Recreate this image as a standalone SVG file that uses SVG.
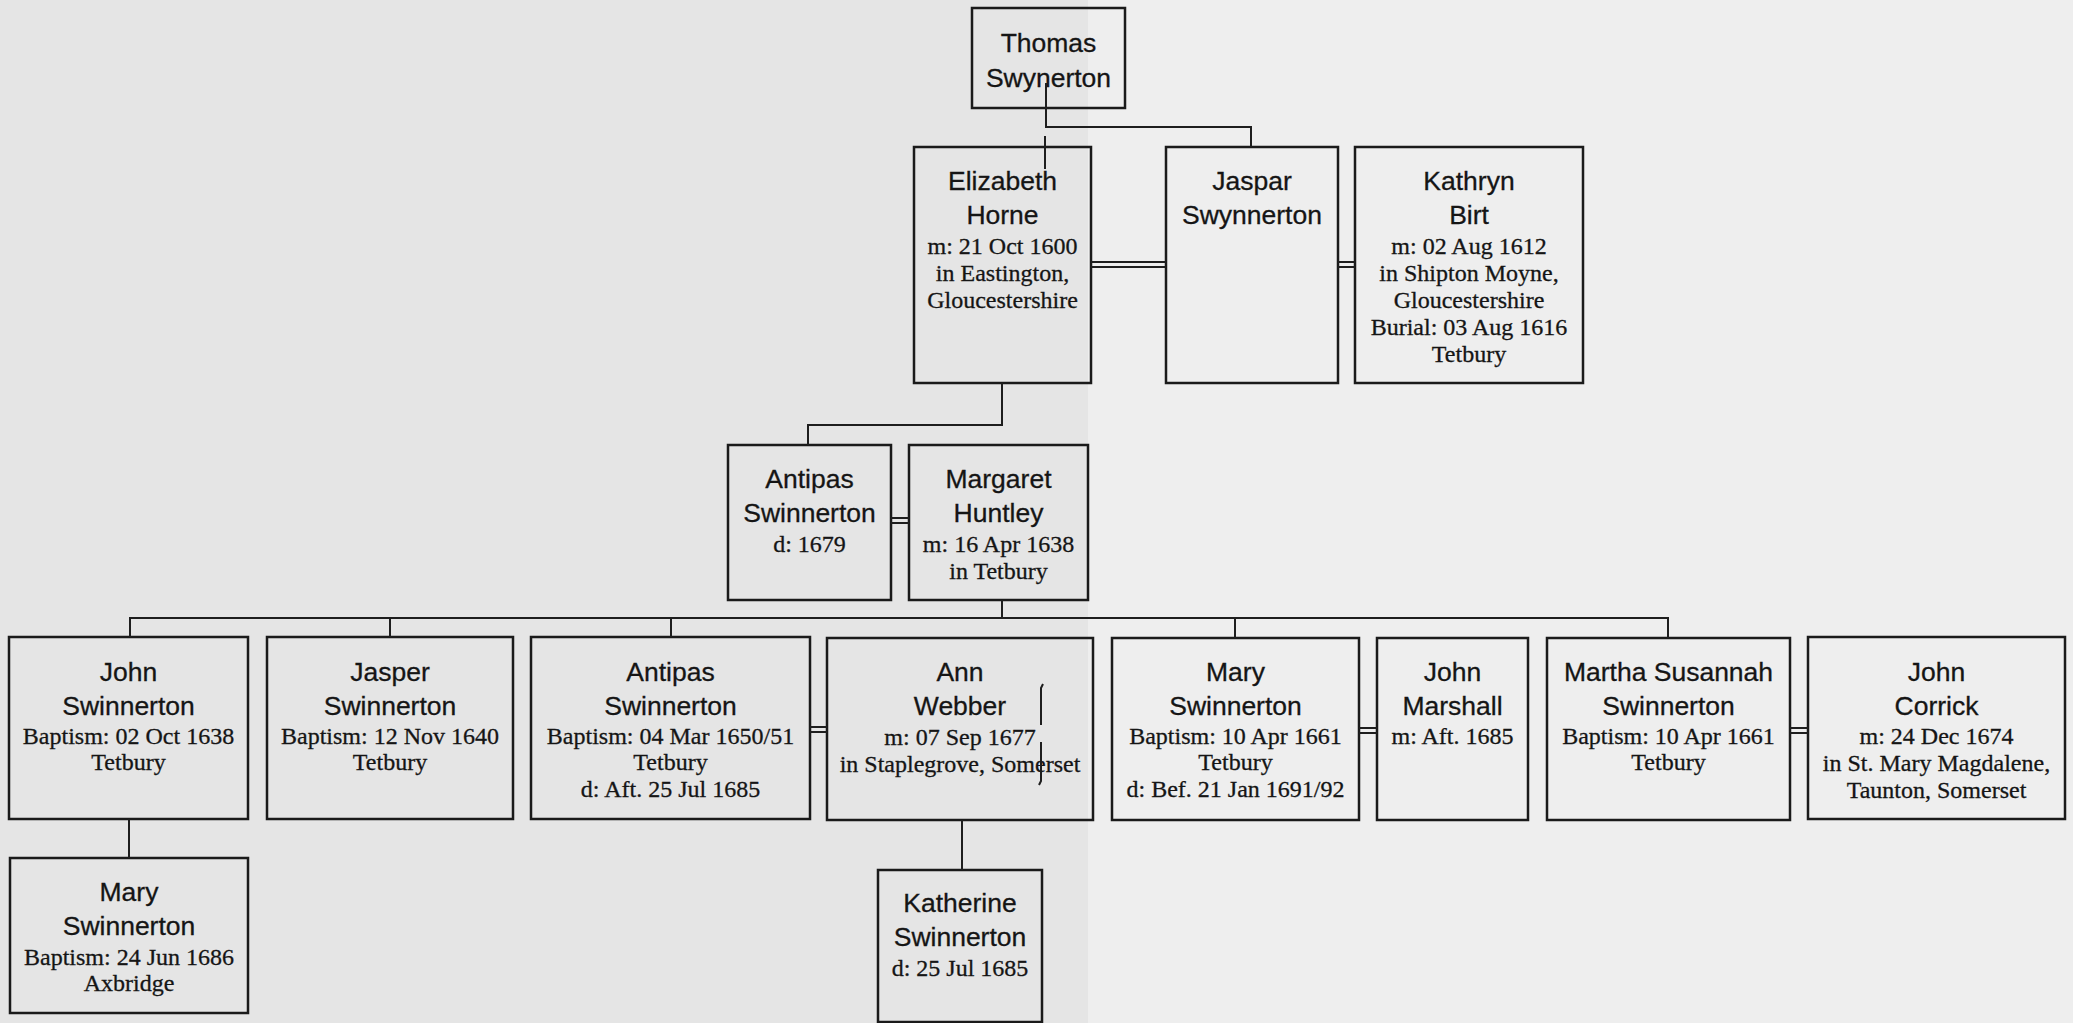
<svg xmlns="http://www.w3.org/2000/svg" width="2073" height="1023" viewBox="0 0 2073 1023">
<style>
.bg1{fill:#e5e5e5}
.bg2{fill:#eeeeee}
.box{fill:none;stroke:#1a1a1a;stroke-width:2.5}
.n{font-family:"Liberation Sans",Arial,sans-serif;font-size:26.5px;fill:#151515;stroke:#151515;stroke-width:0.3;text-anchor:middle}
.d{font-family:"Liberation Serif","Times New Roman",serif;font-size:24px;fill:#151515;stroke:#151515;stroke-width:0.3;text-anchor:middle}
.ln{fill:none;stroke:#1e1e1e;stroke-width:2}
</style>
<rect class="bg1" x="0" y="0" width="1088" height="1023"/>
<rect class="bg2" x="1088" y="0" width="985" height="1023"/>

<g id="nodes">
<g id="thomas">
<rect class="box" x="972" y="8" width="153" height="100"/>
<text class="n" x="1048.5" y="52">Thomas</text>
<text class="n" x="1048.5" y="87">Swynerton</text>
</g>
<g id="elizabeth">
<rect class="box" x="914" y="147" width="177" height="236"/>
<text class="n" x="1002.5" y="190">Elizabeth</text>
<text class="n" x="1002.5" y="224">Horne</text>
<text class="d" x="1002.5" y="254">m: 21 Oct 1600</text>
<text class="d" x="1002.5" y="281">in Eastington,</text>
<text class="d" x="1002.5" y="308">Gloucestershire</text>
</g>
<g id="jaspar">
<rect class="box" x="1166" y="147" width="172" height="236"/>
<text class="n" x="1252" y="190">Jaspar</text>
<text class="n" x="1252" y="224">Swynnerton</text>
</g>
<g id="kathryn">
<rect class="box" x="1355" y="147" width="228" height="236"/>
<text class="n" x="1469" y="190">Kathryn</text>
<text class="n" x="1469" y="224">Birt</text>
<text class="d" x="1469" y="254">m: 02 Aug 1612</text>
<text class="d" x="1469" y="281">in Shipton Moyne,</text>
<text class="d" x="1469" y="308">Gloucestershire</text>
<text class="d" x="1469" y="335">Burial: 03 Aug 1616</text>
<text class="d" x="1469" y="362">Tetbury</text>
</g>
<g id="antipas1">
<rect class="box" x="728" y="445" width="163" height="155"/>
<text class="n" x="809.5" y="488">Antipas</text>
<text class="n" x="809.5" y="522">Swinnerton</text>
<text class="d" x="809.5" y="552">d: 1679</text>
</g>
<g id="margaret">
<rect class="box" x="909" y="445" width="179" height="155"/>
<text class="n" x="998.5" y="488">Margaret</text>
<text class="n" x="998.5" y="522">Huntley</text>
<text class="d" x="998.5" y="552">m: 16 Apr 1638</text>
<text class="d" x="998.5" y="579">in Tetbury</text>
</g>
<g id="john">
<rect class="box" x="9" y="637" width="239" height="182"/>
<text class="n" x="128.5" y="681">John</text>
<text class="n" x="128.5" y="715">Swinnerton</text>
<text class="d" x="128.5" y="744">Baptism: 02 Oct 1638</text>
<text class="d" x="128.5" y="770">Tetbury</text>
</g>
<g id="jasper">
<rect class="box" x="267" y="637" width="246" height="182"/>
<text class="n" x="390" y="681">Jasper</text>
<text class="n" x="390" y="715">Swinnerton</text>
<text class="d" x="390" y="744">Baptism: 12 Nov 1640</text>
<text class="d" x="390" y="770">Tetbury</text>
</g>
<g id="antipas2">
<rect class="box" x="531" y="637" width="279" height="182"/>
<text class="n" x="670.5" y="681">Antipas</text>
<text class="n" x="670.5" y="715">Swinnerton</text>
<text class="d" x="670.5" y="744">Baptism: 04 Mar 1650/51</text>
<text class="d" x="670.5" y="770">Tetbury</text>
<text class="d" x="670.5" y="797">d: Aft. 25 Jul 1685</text>
</g>
<g id="ann">
<rect class="box" x="827" y="638" width="266" height="182"/>
<text class="n" x="960" y="681">Ann</text>
<text class="n" x="960" y="715">Webber</text>
<text class="d" x="960" y="745">m: 07 Sep 1677</text>
<text class="d" x="960" y="772">in Staplegrove, Somerset</text>
</g>
<g id="mary">
<rect class="box" x="1112" y="638" width="247" height="182"/>
<text class="n" x="1235.5" y="681">Mary</text>
<text class="n" x="1235.5" y="715">Swinnerton</text>
<text class="d" x="1235.5" y="744">Baptism: 10 Apr 1661</text>
<text class="d" x="1235.5" y="770">Tetbury</text>
<text class="d" x="1235.5" y="797">d: Bef. 21 Jan 1691/92</text>
</g>
<g id="marshall">
<rect class="box" x="1377" y="638" width="151" height="182"/>
<text class="n" x="1452.5" y="681">John</text>
<text class="n" x="1452.5" y="715">Marshall</text>
<text class="d" x="1452.5" y="744">m: Aft. 1685</text>
</g>
<g id="martha">
<rect class="box" x="1547" y="638" width="243" height="182"/>
<text class="n" x="1668.5" y="681">Martha Susannah</text>
<text class="n" x="1668.5" y="715">Swinnerton</text>
<text class="d" x="1668.5" y="744">Baptism: 10 Apr 1661</text>
<text class="d" x="1668.5" y="770">Tetbury</text>
</g>
<g id="corrick">
<rect class="box" x="1808" y="637" width="257" height="182"/>
<text class="n" x="1936.5" y="681">John</text>
<text class="n" x="1936.5" y="715">Corrick</text>
<text class="d" x="1936.5" y="744">m: 24 Dec 1674</text>
<text class="d" x="1936.5" y="771">in St. Mary Magdalene,</text>
<text class="d" x="1936.5" y="798">Taunton, Somerset</text>
</g>
<g id="mary2">
<rect class="box" x="10" y="858" width="238" height="155"/>
<text class="n" x="129" y="901">Mary</text>
<text class="n" x="129" y="935">Swinnerton</text>
<text class="d" x="129" y="965">Baptism: 24 Jun 1686</text>
<text class="d" x="129" y="991">Axbridge</text>
</g>
<g id="katherine">
<rect class="box" x="878" y="870" width="164" height="152"/>
<text class="n" x="960" y="912">Katherine</text>
<text class="n" x="960" y="946">Swinnerton</text>
<text class="d" x="960" y="976">d: 25 Jul 1685</text>
</g>
</g>

<g id="connectors">
<path class="ln" d="M1046,83 V127 H1251 V147"/>
<path class="ln" d="M1045,136 V169"/>
<path class="ln" d="M1091,262 H1166 M1091,267 H1166"/>
<path class="ln" d="M1338,262 H1355 M1338,267 H1355"/>
<path class="ln" d="M1002,383 V425 H808 V445"/>
<path class="ln" d="M891,518 H909 M891,523 H909"/>
<path class="ln" d="M1002,600 V618"/>
<path class="ln" d="M130,637 V618 H1668 V638"/>
<path class="ln" d="M390,618 V637 M671,618 V637 M1235,618 V638"/>
<path class="ln" d="M810,727 H827 M810,732 H827"/>
<path class="ln" d="M1359,728 H1377 M1359,733 H1377"/>
<path class="ln" d="M1790,728 H1808 M1790,733 H1808"/>
<path class="ln" d="M129,819 V858"/>
<path class="ln" d="M962,820 V870"/>
<path class="ln" d="M1043,684 L1041,688 V725 M1041,742 V781 L1039,785"/>
</g>
</svg>
